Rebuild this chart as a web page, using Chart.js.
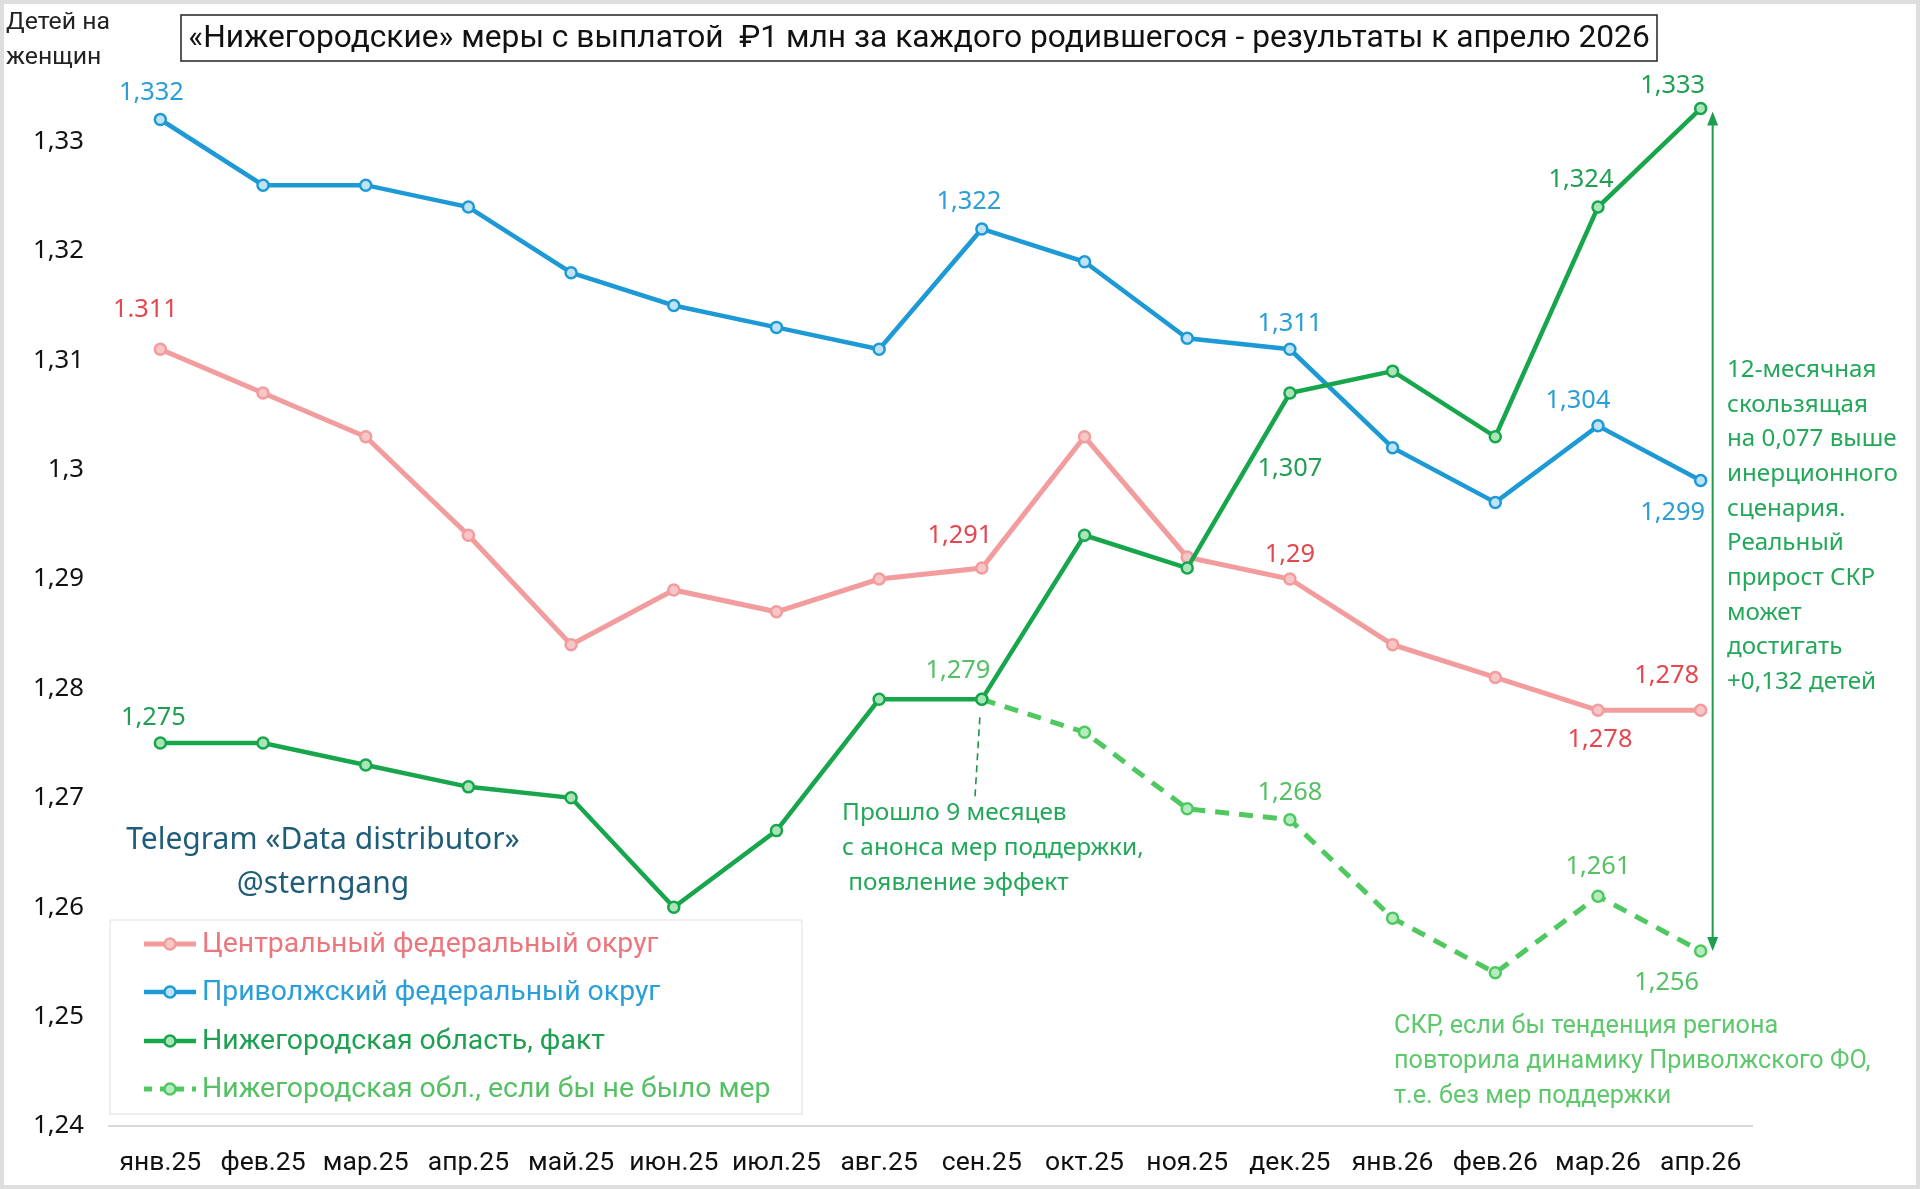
<!DOCTYPE html>
<html><head><meta charset="utf-8">
<script src="https://cdn.jsdelivr.net/npm/chart.js@4/dist/chart.umd.min.js"></script>
<style>html,body{margin:0;padding:0;background:#fff;}canvas{display:block}</style>
</head><body>
<canvas id="c" width="1920" height="1189"></canvas>
<script>
// ---------- DATA ----------
const months = ['янв.25','фев.25','мар.25','апр.25','май.25','июн.25','июл.25','авг.25','сен.25','окт.25','ноя.25','дек.25','янв.26','фев.26','мар.26','апр.26'];
const central = [1.311,1.307,1.303,1.294,1.284,1.289,1.287,1.290,1.291,1.303,1.292,1.290,1.284,1.281,1.278,1.278];
const volga = [1.332,1.326,1.326,1.324,1.318,1.315,1.313,1.311,1.322,1.319,1.312,1.311,1.302,1.297,1.304,1.299];
const nizhFact = [1.275,1.275,1.273,1.271,1.270,1.260,1.267,1.279,1.279,1.294,1.291,1.307,1.309,1.303,1.324,1.333];
const nizhNoMeasures = [null,null,null,null,null,null,null,null,1.279,1.276,1.269,1.268,1.259,1.254,1.261,1.256];
const yTicks = [1.24,1.25,1.26,1.27,1.28,1.29,1.30,1.31,1.32,1.33];
const seriesNames = ['Центральный федеральный округ','Приволжский федеральный округ','Нижегородская область, факт','Нижегородская обл., если бы не было мер'];
const centralLabeled = [0,8,11,14,15];
const volgaLabeled = [0,8,11,14,15];
const factLabeled = [0,11,14,15];
const noMeasLabeled = [8,11,14,15];
const labelOverride = {central:{0:'1.311'}};
const titleText = '«Нижегородские» меры с выплатой  ₽1 млн за каждого родившегося - результаты к апрелю 2026';
const yTitle = ['Детей на','женщин'];
const noteEffect = ['Прошло 9 месяцев','с анонса мер поддержки,',' появление эффект'];
const noteRight = ['12-месячная','скользящая','на 0,077 выше','инерционного','сценария.','Реальный','прирост СКР','может','достигать','+0,132 детей'];
const noteBottom = ['СКР, если бы тенденция региона','повторила динамику Приволжского ФО,','т.е. без мер поддержки'];
const watermark = ['Telegram «Data distributor»','@sterngang'];

// ---------- STYLE ----------
const C = {
  central:'#F29C9E', centralFill:'#F7C6C7', centralLabel:'#E5474F', centralLegend:'#EC767D',
  volga:'#1D9AD6', volgaFill:'#BFE3F5', volgaLabel:'#2A9ED8',
  fact:'#18A64D', factFill:'#A9E5B9', factLabel:'#1F9F52',
  noMeas:'#4FC95F', noMeasFill:'#B5EBBE', noMeasLabel:'#55C064',
  arrow:'#1C9E4E', note:'#22A858', noteBottom:'#5EC86C', wm:'#1F5C7A'
};
const FA = 'Roboto, "Liberation Sans", sans-serif';   // title/legend/x-axis
const FB = '"Noto Sans", "Open Sans", sans-serif';     // numbers / notes

const mctx = document.createElement('canvas').getContext('2d');
function fit(text, family, target){ mctx.font = '100px ' + family; return 100*target/mctx.measureText(text).width; }

const sizeTitle = fit(titleText, FA, 1462);
const sizeLegend = fit(seriesNames[3], FA, 569);
const sizeYTitle = fit(yTitle[0], FA, 104);
const sizeX = fit('сен.25', FA, 80);
const sizeY = fit('1,33', FB, 51);
const sizeLbl = fit('1,332', FB, 65);
const sizeNoteR = fit(noteRight[2], FB, 170);
const sizeNoteE = fit(noteEffect[1], FB, 302);
const sizeNoteB = fit(noteBottom[1], FA, 476);
const sizeWm = fit(watermark[0], FB, 394);

function fmt(v){ return String(+v.toFixed(3)).replace('.', ','); }

const labelPos = {
  central:{0:[-15,-39],8:[-22,-32],11:[0,-24],14:[2,29],15:[-34,-35]},
  volga:{0:[-9,-27],8:[-13,-27],11:[0,-25],14:[-20,-25],15:[-28,32]},
  fact:{0:[-7,-25],11:[0,76],14:[-17,-27],15:[-28,-23]},
  noMeas:{8:[-24,-29],11:[0,-27],14:[0,-29],15:[-34,32]}
};

const overlay = {
  id:'overlay',
  beforeDraw(chart){
    const ctx = chart.ctx;
    ctx.save();
    ctx.fillStyle = '#fff'; ctx.fillRect(0,0,chart.width,chart.height);
    ctx.restore();
  },
  afterDatasetsDraw(chart){
    const ctx = chart.ctx, xs = chart.scales.x, ys = chart.scales.y;
    ctx.save();
    const groups = [
      ['central', 0, central, centralLabeled, C.centralLabel],
      ['volga', 1, volga, volgaLabeled, C.volgaLabel],
      ['fact', 2, nizhFact, factLabeled, C.factLabel],
      ['noMeas', 3, nizhNoMeasures, noMeasLabeled, C.noMeasLabel]
    ];
    ctx.font = sizeLbl.toFixed(1) + 'px ' + FB;
    ctx.textAlign = 'center'; ctx.textBaseline = 'middle';
    groups.forEach(([key, di, data, idxs, col]) => {
      const meta = chart.getDatasetMeta(di);
      idxs.forEach(i => {
        const p = meta.data[i];
        const off = labelPos[key][i];
        const t = (labelOverride[key] && labelOverride[key][i]) || fmt(data[i]);
        ctx.fillStyle = col;
        ctx.fillText(t, p.x + off[0], p.y + off[1]);
      });
    });
    // vertical double arrow at last month
    const ax = xs.getPixelForValue(15) + 12;
    const yTop = ys.getPixelForValue(nizhFact[15]) + 3;
    const yBot = ys.getPixelForValue(nizhNoMeasures[15]);
    ctx.strokeStyle = C.arrow; ctx.fillStyle = C.arrow; ctx.lineWidth = 2;
    ctx.beginPath(); ctx.moveTo(ax, yTop + 10); ctx.lineTo(ax, yBot - 10); ctx.stroke();
    ctx.beginPath(); ctx.moveTo(ax, yTop); ctx.lineTo(ax-5.5, yTop+14); ctx.lineTo(ax+5.5, yTop+14); ctx.closePath(); ctx.fill();
    ctx.beginPath(); ctx.moveTo(ax, yBot); ctx.lineTo(ax-5.5, yBot-14); ctx.lineTo(ax+5.5, yBot-14); ctx.closePath(); ctx.fill();
    // dashed pointer from Sep point
    const sx = xs.getPixelForValue(8), sy = ys.getPixelForValue(nizhFact[8]);
    ctx.setLineDash([7,5]); ctx.lineWidth = 1.6; ctx.strokeStyle = '#1E9348';
    ctx.beginPath(); ctx.moveTo(sx - 2, sy + 18); ctx.lineTo(sx - 7, sy + 100); ctx.stroke();
    ctx.setLineDash([]);
    ctx.restore();
  },
  afterDraw(chart){
    const ctx = chart.ctx;
    ctx.save();
    ctx.strokeStyle = '#dedede'; ctx.lineWidth = 4;
    ctx.strokeRect(2, 2, chart.width-4, chart.height-4);
    // title box
    ctx.fillStyle = '#fff'; ctx.fillRect(181, 15, 1476, 46);
    ctx.strokeStyle = '#222'; ctx.lineWidth = 1.5; ctx.strokeRect(181, 15, 1476, 46);
    ctx.fillStyle = '#111'; ctx.font = sizeTitle.toFixed(1) + 'px ' + FA;
    ctx.textAlign = 'center'; ctx.textBaseline = 'middle';
    ctx.fillText(titleText, 919, 39);
    // y title
    ctx.textAlign = 'left'; ctx.font = sizeYTitle.toFixed(1) + 'px ' + FA; ctx.fillStyle = '#222';
    ctx.fillText(yTitle[0], 6, 23); ctx.fillText(yTitle[1], 6, 58);
    // watermark
    ctx.textAlign = 'center'; ctx.fillStyle = C.wm; ctx.font = sizeWm.toFixed(1) + 'px ' + FB;
    ctx.fillText(watermark[0], 323, 840); ctx.fillText(watermark[1], 323, 884);
    // note effect
    ctx.textAlign = 'left'; ctx.fillStyle = C.note; ctx.font = sizeNoteE.toFixed(1) + 'px ' + FB;
    noteEffect.forEach((t, i) => ctx.fillText(t, 842, 813 + i*35));
    // note right
    ctx.font = sizeNoteR.toFixed(1) + 'px ' + FB;
    noteRight.forEach((t, i) => ctx.fillText(t, 1727, 370 + i*34.7));
    // note bottom
    ctx.fillStyle = C.noteBottom; ctx.font = sizeNoteB.toFixed(1) + 'px ' + FA;
    noteBottom.forEach((t, i) => ctx.fillText(t, 1394, 1027 + i*35));
    // legend box
    ctx.fillStyle = '#fff'; ctx.fillRect(110, 920, 692, 194);
    ctx.strokeStyle = '#e4e4e4'; ctx.lineWidth = 1.2; ctx.strokeRect(110, 920, 692, 194);
    const legendText = [C.centralLegend, C.volgaLabel, C.factLabel, C.noMeasLabel];
    const rows = [944, 992, 1041, 1089];
    chart.data.datasets.forEach((ds, i) => {
      const y = rows[i];
      ctx.strokeStyle = ds.borderColor; ctx.lineWidth = ds.borderWidth;
      ctx.setLineDash(ds.borderDash ? [8, 8] : []);
      ctx.beginPath(); ctx.moveTo(144, y); ctx.lineTo(196, y); ctx.stroke();
      ctx.setLineDash([]);
      ctx.beginPath(); ctx.arc(170, y, 5.5, 0, Math.PI*2);
      ctx.fillStyle = ds.pointBackgroundColor; ctx.fill(); ctx.lineWidth = 2.5; ctx.stroke();
      ctx.fillStyle = legendText[i]; ctx.font = sizeLegend.toFixed(1) + 'px ' + FA;
      ctx.textAlign = 'left'; ctx.textBaseline = 'middle';
      ctx.fillText(ds.label, 202, y + 1);
    });
    ctx.restore();
  }
};

function lineDs(label, data, color, fillCol, extra){
  return Object.assign({
    label, data, borderColor: color, backgroundColor: color,
    borderWidth: 4.5, pointRadius: 5.5, pointHoverRadius: 5.5,
    pointBackgroundColor: fillCol, pointBorderColor: color, pointBorderWidth: 2.5,
    tension: 0, spanGaps: false, fill: false
  }, extra || {});
}

new Chart(document.getElementById('c'), {
  type: 'line',
  data: {
    labels: months,
    datasets: [
      lineDs(seriesNames[0], central, C.central, C.centralFill, {order: 4, borderWidth: 5}),
      lineDs(seriesNames[1], volga, C.volga, C.volgaFill, {order: 3}),
      lineDs(seriesNames[2], nizhFact, C.fact, C.factFill, {order: 1}),
      lineDs(seriesNames[3], nizhNoMeasures, C.noMeas, C.noMeasFill, {order: 2, borderWidth: 5, borderDash: [14, 10]})
    ]
  },
  options: {
    responsive: false, animation: false, devicePixelRatio: 1,
    layout: { padding: { left: 9, right: 168, top: 32, bottom: 0 } },
    plugins: { legend: { display: false }, title: { display: false }, tooltip: { enabled: false } },
    scales: {
      x: {
        type: 'category', offset: true,
        grid: { display: false, drawTicks: false },
        border: { display: true, color: '#d9d9d9', width: 2 },
        ticks: { color: '#111', font: { family: FA, size: sizeX }, padding: 21, maxRotation: 0, autoSkip: false },
        afterFit(s){ s.height = 63; s.paddingLeft = 0; s.paddingRight = 0; }
      },
      y: {
        min: 1.24, max: 1.34,
        grid: { display: false, drawTicks: false },
        border: { display: false },
        afterBuildTicks(s){ s.ticks = yTicks.map(v => ({ value: v })); },
        ticks: { color: '#111', font: { family: FB, size: sizeY }, padding: 25,
          callback: v => String(+(+v).toFixed(2)).replace('.', ',') },
        afterFit(s){ s.width = 100; s.paddingTop = 0; s.paddingBottom = 0; }
      }
    }
  },
  plugins: [overlay]
});
</script>
</body></html>
